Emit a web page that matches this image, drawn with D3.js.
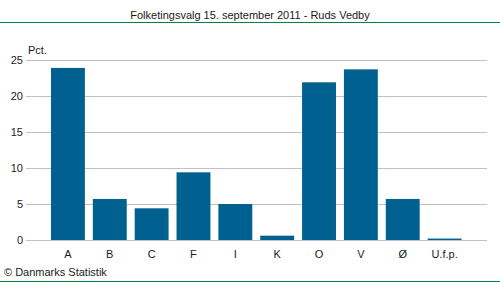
<!DOCTYPE html>
<html>
<head>
<meta charset="utf-8">
<script src="https://cdn.jsdelivr.net/npm/d3@7"></script>
<style>
  body { margin: 0; background: #fff; }
  text { font-family: "Liberation Sans", Arial, sans-serif; }
</style>
</head>
<body>
<svg width="500" height="282"></svg>
<script>
'use strict';

// party letters and vote share (pct.)
var categories = ['A', 'B', 'C', 'F', 'I', 'K', 'O', 'V', 'Ø', 'U.f.p.'];
var values = [23.9, 5.7, 4.4, 9.4, 5.0, 0.6, 21.9, 23.7, 5.7, 0.2];
var yTicks = [0, 5, 10, 15, 20, 25];

var svg = d3.select('svg');

// title and green rules
svg.append('text')
    .attr('x', 250).attr('y', 19)
    .attr('text-anchor', 'middle')
    .attr('font-size', 11)
    .attr('fill', '#1a1a1a')
    .text('Folketingsvalg 15. september 2011 - Ruds Vedby');
svg.append('line').attr('x1', 0).attr('x2', 500).attr('y1', 22.5).attr('y2', 22.5)
    .attr('stroke', '#00843d').attr('stroke-width', 1);
svg.append('line').attr('x1', 0).attr('x2', 500).attr('y1', 281.5).attr('y2', 281.5)
    .attr('stroke', '#00843d').attr('stroke-width', 1);

var x = d3.scaleBand().domain(categories).range([47, 465.5])
    .paddingInner(0.19).paddingOuter(0.095);
var y = d3.scaleLinear().domain([0, 25]).range([240, 60]);

// gridlines
svg.append('g').selectAll('line').data(yTicks).enter().append('line')
    .attr('x1', 26).attr('x2', 487)
    .attr('y1', function (d) { return Math.round(y(d)) + 0.5; })
    .attr('y2', function (d) { return Math.round(y(d)) + 0.5; })
    .attr('stroke', '#c0c0c8').attr('stroke-width', 1);

// y tick labels
svg.append('g').selectAll('text').data(yTicks).enter().append('text')
    .attr('x', 23)
    .attr('y', function (d) { return y(d) + 4; })
    .attr('text-anchor', 'end')
    .attr('font-size', 11)
    .attr('fill', '#1a1a1a')
    .text(function (d) { return d; });

svg.append('text').attr('x', 28).attr('y', 54)
    .attr('font-size', 11).attr('fill', '#1a1a1a').text('Pct.');

// bars
svg.append('g').selectAll('rect').data(values).enter().append('rect')
    .attr('x', function (d, i) { return x(categories[i]); })
    .attr('width', x.bandwidth())
    .attr('y', function (d) { return y(d); })
    .attr('height', function (d) { return y(0) - y(d); })
    .attr('fill', '#006090');

// category labels
svg.append('g').selectAll('text').data(categories).enter().append('text')
    .attr('x', function (d) { return x(d) + x.bandwidth() / 2; })
    .attr('y', 258)
    .attr('text-anchor', 'middle')
    .attr('font-size', 11)
    .attr('fill', '#1a1a1a')
    .text(function (d) { return d; });

svg.append('text').attr('x', 4).attr('y', 276)
    .attr('font-size', 11).attr('fill', '#1a1a1a').text('© Danmarks Statistik');
</script>
</body>
</html>
